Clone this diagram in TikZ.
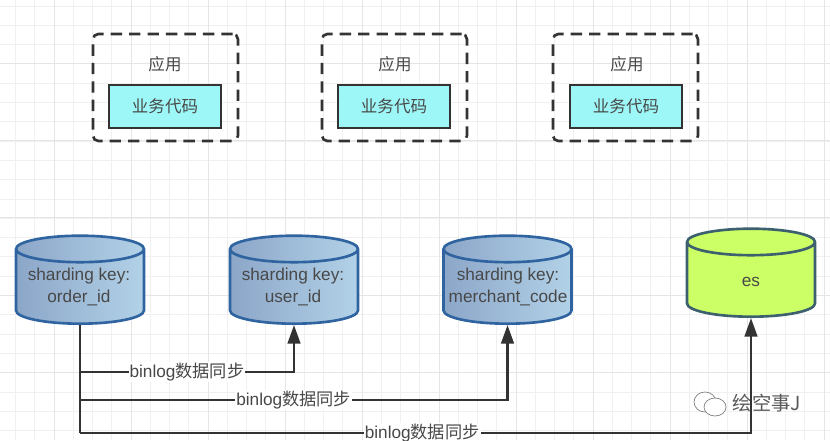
\documentclass[tikz,border=0pt]{standalone}
\usepackage{fontspec}
\setmainfont{Liberation Sans}
\newfontfamily\cjk{Noto Sans CJK SC}
\usepackage{xcolor}
\usetikzlibrary{shapes.geometric,arrows.meta,positioning}
\definecolor{gridgray}{RGB}{240,240,240}
\definecolor{majorgray}{RGB}{229,229,229}
\definecolor{inkgray}{RGB}{72,72,72}
\definecolor{darkline}{RGB}{51,51,51}
\definecolor{softcyan}{RGB}{158,247,247}
\definecolor{dbblue}{RGB}{48,100,160}
\definecolor{dbleft}{RGB}{140,166,200}
\definecolor{dbright}{RGB}{178,210,232}
\definecolor{eslime}{RGB}{204,255,102}
\definecolor{esline}{RGB}{60,96,110}

\begin{document}
\begin{tikzpicture}[x=0.02cm, y=-0.02cm,
    app/.style={draw=darkline, dash pattern=on 6.5pt off 4pt, line width=1.5pt, rounded corners=3pt, minimum width=2.9cm, minimum height=2.14cm, inner sep=0pt},
    codebox/.style={draw=darkline, fill=softcyan, line width=1.5pt, minimum width=2.24cm, minimum height=0.86cm, inner sep=0pt, font=\cjk\fontsize{9.4}{11}\selectfont, text=inkgray},
    applabel/.style={font=\cjk\fontsize{9.4}{11}\selectfont, text=inkgray},
    db/.style={cylinder, shape border rotate=90, aspect=1.7, draw=dbblue, line width=1.5pt, left color=dbleft, right color=dbright, minimum width=2.56cm, minimum height=1.76cm, inner sep=0pt, anchor=bottom, font=\fontsize{8.4}{10}\selectfont},
    esdb/.style={db, draw=esline, left color=eslime, right color=eslime},
    dbtext/.style={align=center, text=inkgray, font=\fontsize{9.8}{12}\selectfont},
    syncline/.style={draw=darkline, line width=1.5pt},
    syncarrow/.style={syncline, -{Triangle[length=3.7mm, width=2.5mm]}},
    synclabel/.style={fill=white, inner sep=0.6pt, text=inkgray, font=\fontsize{9.8}{11}\selectfont}
]
\useasboundingbox (0,0) rectangle (830,440);
\fill[white] (0,0) rectangle (830,440);

% background grid
\foreach \i in {0,...,43} {
    \draw[gridgray, line width=0.5pt] ({15.5+19.25*\i},0) -- ({15.5+19.25*\i},440);
}
\foreach \i in {0,...,23} {
    \draw[gridgray, line width=0.5pt] (0,{6+19.3*\i}) -- (830,{6+19.3*\i});
}
\foreach \i in {0,...,10} {
    \draw[majorgray, line width=0.5pt] ({54+77*\i},0) -- ({54+77*\i},440);
}
\foreach \i in {0,...,5} {
    \draw[majorgray, line width=0.5pt] (0,{63.5+77.2*\i}) -- (830,{63.5+77.2*\i});
}

% applications
\foreach \n/\x/\xx/\xl in {a/165.5/165/165, b/394.5/394/395, c/625.5/626/627} {
    \node[app] (App\n) at (\x,87.5) {};
    \node[applabel] (AppLabel\n) at (\xl,64) {应用};
    \node[codebox] (Code\n) at (\xx,106.5) {业务代码};
}

% databases
\node[db] (DbOrder) at (80,325) {\phantom{es}};
\node[db] (DbUser) at (294,325) {\phantom{es}};
\node[db] (DbMerchant) at (507.5,325) {\phantom{es}};
\node[esdb] (DbEs) at (751,318) {\phantom{es}};

\node[dbtext] (TextOrder) at (79,287) {sharding key:\\order\_id};
\node[dbtext] (TextUser) at (293,287) {sharding key:\\user\_id};
\node[dbtext] (TextMerchant) at (508,287) {sharding key:\\merchant\_code};
\node[dbtext] (TextEs) at (751,282) {es};

\coordinate (BranchA) at (80,372);
\coordinate (BranchB) at (80,400);
\coordinate (BranchC) at (80,433);

% sync lines
\draw[syncline] (DbOrder.bottom) -- (BranchC);
\draw[syncarrow] (BranchA) -| node[synclabel, pos=0.25] (LabelA) {binlog{\cjk 数据同步}} (DbUser.bottom);
\draw[syncarrow] (BranchB) -| node[synclabel, pos=0.25] (LabelB) {binlog{\cjk 数据同步}} (DbMerchant.bottom);
\draw[syncarrow] (BranchC) -| node[synclabel, pos=0.255] (LabelC) {binlog{\cjk 数据同步}} (DbEs.bottom);

% watermark
\draw[gray, line width=0.4pt, fill=white] (705,402) circle [x radius=11, y radius=10];
\draw[gray, line width=0.4pt, fill=white] (715,407) circle [x radius=11, y radius=9];
\node[font=\cjk\fontsize{11}{12}\selectfont, text=gray!70!black] (Mark) at (767,403) {绘空事J};
\end{tikzpicture}
\end{document}
